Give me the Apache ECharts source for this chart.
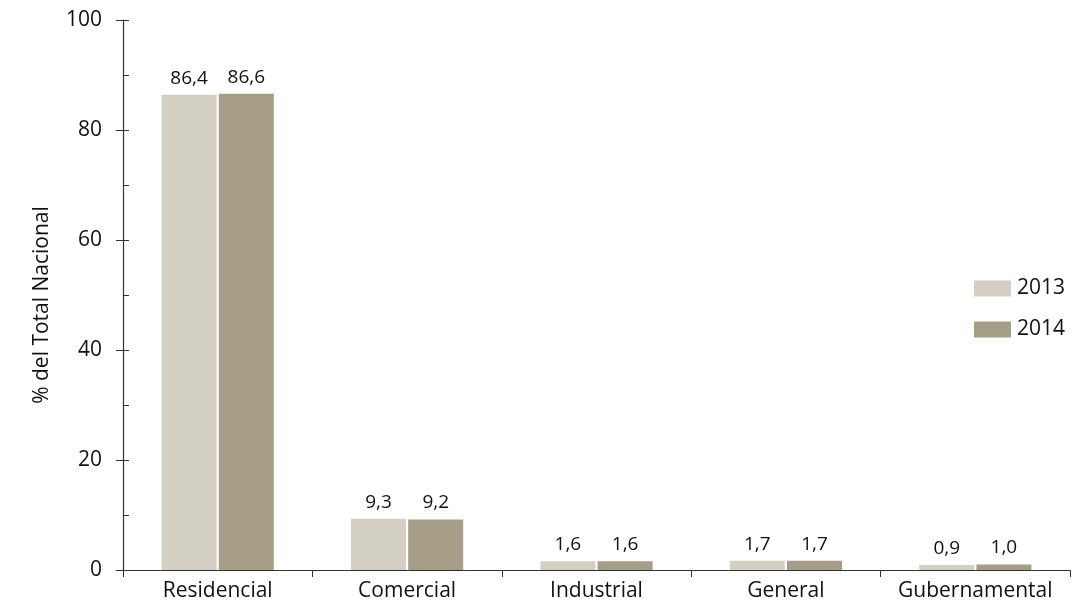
<!DOCTYPE html>
<html>
<head>
<meta charset="utf-8">
<script src="https://cdn.jsdelivr.net/npm/echarts@6/dist/echarts.min.js"></script>
<style>html,body{margin:0;padding:0;background:#fff}#c{width:1082px;height:607px}</style>
</head>
<body>
<div id="c"></div>
<script>
const categories = ['Residencial', 'Comercial', 'Industrial', 'General', 'Gubernamental'];
const values2013 = [86.4, 9.3, 1.6, 1.7, 0.9];
const values2014 = [86.6, 9.2, 1.6, 1.7, 1.0];
const seriesNames = ['2013', '2014'];
const yTicks = [0, 20, 40, 60, 80, 100];

const FONT = 'Open Sans';
const axisColor = '#333';
const chart = echarts.init(document.getElementById('c'));
const fmt = p => p.value.toFixed(1).replace('.', ',');
const labelCfg = {show: true, position: 'top', distance: 7, formatter: fmt, color: '#111', fontFamily: FONT, fontSize: 19};

chart.setOption({
  animation: false,
  textStyle: {fontFamily: FONT},
  grid: {left: 123, right: 12, top: 20, bottom: 37, containLabel: false},
  legend: {
    data: seriesNames, orient: 'vertical', left: 969, top: 273,
    itemWidth: 37, itemHeight: 16, itemGap: 20,
    icon: 'rect',
    textStyle: {fontFamily: FONT, fontSize: 21, color: '#111', padding: [0, 0, 0, 1]}
  },
  xAxis: {
    type: 'category', data: categories,
    axisLine: {lineStyle: {color: axisColor, width: 1.2}},
    axisTick: {show: true, interval: 0, length: 7, lineStyle: {color: axisColor}},
    axisLabel: {interval: 0, hideOverlap: false, fontFamily: FONT, fontSize: 21, color: '#111', margin: 11}
  },
  yAxis: [{
    type: 'value', min: 0, max: 100, interval: 20,
    name: '% del Total Nacional', nameLocation: 'middle', nameGap: 70, nameRotate: 90,
    nameTextStyle: {fontFamily: FONT, fontSize: 21, color: '#111', padding: [0, 20, 0, 0]},
    axisLine: {show: true, lineStyle: {color: axisColor, width: 1.2}},
    axisTick: {show: true, length: 7, lineStyle: {color: axisColor}},
    axisLabel: {fontFamily: FONT, fontSize: 21, color: '#111', margin: 21,
      formatter: v => yTicks.includes(v) ? String(v) : ''},
    splitLine: {show: false}
  }, {
    type: 'value', min: 0, max: 100, interval: 10, position: 'left', offset: 0,
    axisLine: {show: false},
    axisTick: {show: true, inside: true, length: 6, lineStyle: {color: axisColor}},
    axisLabel: {show: false},
    splitLine: {show: false}
  }],
  series: [{
    name: seriesNames[0], type: 'bar', data: values2013, barWidth: 55, barGap: '4%',
    itemStyle: {color: '#d3cfc3'}, label: labelCfg
  }, {
    name: seriesNames[1], type: 'bar', data: values2014, barWidth: 55, barGap: '4%',
    itemStyle: {color: '#a59d85'}, label: labelCfg
  }]
});
</script>
</body>
</html>
